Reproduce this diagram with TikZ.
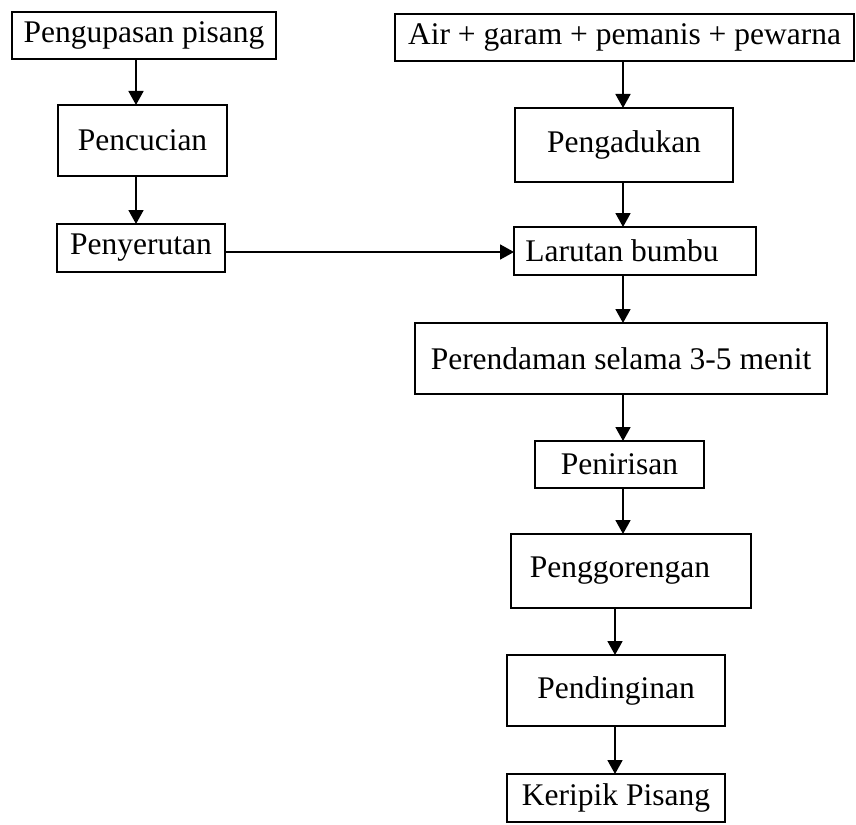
\documentclass[tikz,border=0pt]{standalone}
\usepackage{fontspec}
\setmainfont{Liberation Serif}
\usetikzlibrary{arrows.meta}
\begin{document}
\begin{tikzpicture}[x=1pt,y=-1pt,
  procbox/.style={draw, line width=1.8pt, rectangle, inner sep=0pt, outer sep=0pt,
    font=\fontsize{31.5}{36}\selectfont, anchor=center},
  flow/.style={line width=1.8pt, -{Triangle[length=14pt,width=15pt]}}]
\useasboundingbox (0,0) rectangle (856,824);

% left column: preparing the bananas
\node[procbox, minimum width=264pt, minimum height=47pt] (kupas) at (144,35.5) {Pengupasan pisang};
\node[procbox, minimum width=169pt, minimum height=71pt] (cuci) at (142.5,140.5) {Pencucian};
\node[procbox, minimum width=168pt, minimum height=48pt] (serut) at (141,248) {Penyerutan};

% right column: seasoning solution and further processing
\node[procbox, minimum width=459pt, minimum height=47pt] (bahan) at (624.5,37.5) {Air + garam + pemanis + pewarna};
\node[procbox, minimum width=218pt, minimum height=74pt] (aduk) at (624,145) {Pengadukan};
\node[procbox, minimum width=242pt, minimum height=48pt] (bumbu) at (635,251) {Larutan bumbu\hspace*{26pt}};
\node[procbox, minimum width=412pt, minimum height=71pt] (rendam) at (621,358.5) {Perendaman selama 3-5 menit};
\node[procbox, minimum width=169pt, minimum height=47pt] (tiris) at (619.5,464.5) {Penirisan};
\node[procbox, minimum width=240pt, minimum height=74pt] (goreng) at (631,571) {Penggorengan\hspace*{22pt}};
\node[procbox, minimum width=218pt, minimum height=71pt] (dingin) at (616,690.5) {Pendinginan};
\node[procbox, minimum width=218pt, minimum height=48pt] (keripik) at (616,798) {Keripik Pisang};

% axes of the connectors
\coordinate (kolKiri) at (136,0);
\coordinate (kolKanan) at (623,0);
\coordinate (kolBawah) at (615,0);
\coordinate (barisSerut) at (0,252);

% connectors
\draw[flow] (kupas.south -| kolKiri) -- (cuci.north -| kolKiri);
\draw[flow] (cuci.south -| kolKiri) -- (serut.north -| kolKiri);
\draw[flow] (serut.east |- barisSerut) -- (bumbu.west |- barisSerut);
\draw[flow] (bahan.south -| kolKanan) -- (aduk.north -| kolKanan);
\draw[flow] (aduk.south -| kolKanan) -- (bumbu.north -| kolKanan);
\draw[flow] (bumbu.south -| kolKanan) -- (rendam.north -| kolKanan);
\draw[flow] (rendam.south -| kolKanan) -- (tiris.north -| kolKanan);
\draw[flow] (tiris.south -| kolKanan) -- (goreng.north -| kolKanan);
\draw[flow] (goreng.south -| kolBawah) -- (dingin.north -| kolBawah);
\draw[flow] (dingin.south -| kolBawah) -- (keripik.north -| kolBawah);
\end{tikzpicture}
\end{document}
